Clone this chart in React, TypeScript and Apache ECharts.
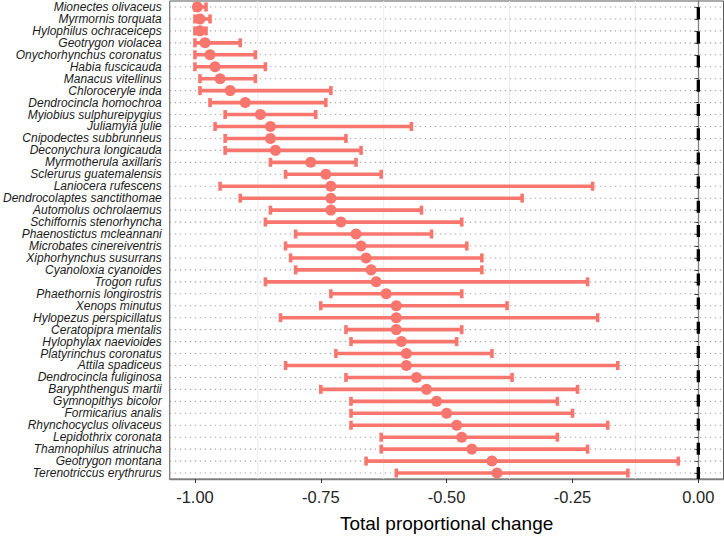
import React, { useEffect, useRef } from "react";
import * as echarts from "echarts";

const species = [
  "Mionectes olivaceus", "Myrmornis torquata", "Hylophilus ochraceiceps", "Geotrygon violacea",
  "Onychorhynchus coronatus", "Habia fuscicauda", "Manacus vitellinus", "Chloroceryle inda",
  "Dendrocincla homochroa", "Myiobius sulphureipygius", "Juliamyia julie", "Cnipodectes subbrunneus",
  "Deconychura longicauda", "Myrmotherula axillaris", "Sclerurus guatemalensis", "Laniocera rufescens",
  "Dendrocolaptes sanctithomae", "Automolus ochrolaemus", "Schiffornis stenorhyncha", "Phaenostictus mcleannani",
  "Microbates cinereiventris", "Xiphorhynchus susurrans", "Cyanoloxia cyanoides", "Trogon rufus",
  "Phaethornis longirostris", "Xenops minutus", "Hylopezus perspicillatus", "Ceratopipra mentalis",
  "Hylophylax naevioides", "Platyrinchus coronatus", "Attila spadiceus", "Dendrocincla fuliginosa",
  "Baryphthengus martii", "Gymnopithys bicolor", "Formicarius analis", "Rhynchocyclus olivaceus",
  "Lepidothrix coronata", "Thamnophilus atrinucha", "Geotrygon montana", "Terenotriccus erythrurus",
];

const estimate = [
  -0.995, -0.99, -0.99, -0.98, -0.97, -0.96, -0.95, -0.93, -0.9, -0.87,
  -0.85, -0.85, -0.84, -0.77, -0.74, -0.73, -0.73, -0.73, -0.71, -0.68,
  -0.67, -0.66, -0.65, -0.64, -0.62, -0.6, -0.6, -0.6, -0.59, -0.58,
  -0.58, -0.56, -0.54, -0.52, -0.5, -0.48, -0.47, -0.45, -0.41, -0.4,
];

const lowerCI = [
  -1.0, -1.0, -1.0, -1.0, -1.0, -1.0, -0.99, -0.99, -0.97, -0.94,
  -0.96, -0.94, -0.94, -0.85, -0.82, -0.95, -0.91, -0.85, -0.86, -0.8,
  -0.82, -0.81, -0.8, -0.86, -0.73, -0.75, -0.83, -0.7, -0.69, -0.72,
  -0.82, -0.7, -0.75, -0.69, -0.69, -0.69, -0.63, -0.63, -0.66, -0.6,
];

const upperCI = [
  -0.978, -0.97, -0.978, -0.91, -0.88, -0.86, -0.88, -0.73, -0.74, -0.76,
  -0.57, -0.7, -0.67, -0.68, -0.63, -0.21, -0.35, -0.55, -0.47, -0.53,
  -0.46, -0.43, -0.43, -0.22, -0.47, -0.38, -0.2, -0.47, -0.48, -0.41,
  -0.16, -0.37, -0.24, -0.28, -0.25, -0.18, -0.28, -0.22, -0.04, -0.14,
];

const xTicks = [-1, -0.75, -0.5, -0.25, 0];
const minorBreaks = [-0.875, -0.625, -0.375, -0.125];
const refLine = [0];
const xMin = -1.05;
const xMax = 0.05;

const COLOR = "#F8766D";
const FONT = "'Liberation Sans', Arial, Helvetica, sans-serif";

export default function App() {
  const ref = useRef<HTMLDivElement | null>(null);

  useEffect(() => {
    if (!ref.current) return;
    const chart = echarts.init(ref.current, undefined, { renderer: "svg" });

    const option: any = {
      animation: false,
      textStyle: { fontFamily: FONT },
      grid: {
        left: 165.5,
        right: 0.5,
        top: 1,
        bottom: 55.7,
        show: true,
        borderColor: "#595959",
        borderWidth: 1,
        backgroundColor: "#ffffff",
      },
      xAxis: {
        type: "value",
        min: xMin,
        max: xMax,
        name: "Total proportional change",
        nameLocation: "middle",
        nameGap: 35,
        nameTextStyle: { fontSize: 19, color: "#000000", fontFamily: FONT },
        axisLine: { show: true, lineStyle: { color: "#7f7f7f", width: 1.3 } },
        axisTick: {
          show: true,
          length: 4,
          customValues: xTicks,
          lineStyle: { color: "#333333", width: 1 },
        },
        axisLabel: {
          customValues: xTicks,
          margin: 9,
          fontSize: 16.5,
          color: "#262626",
          fontFamily: FONT,
          formatter: (v: number) => v.toFixed(2),
        },
        splitLine: { show: false },
      },
      yAxis: {
        type: "category",
        data: species,
        inverse: true,
        axisLine: { show: true, lineStyle: { color: "#7f7f7f", width: 1.3 } },
        axisTick: {
          show: true,
          alignWithLabel: true,
          length: 4,
          lineStyle: { color: "#333333", width: 1 },
        },
        axisLabel: {
          margin: 8,
          fontSize: 12,
          lineHeight: 11.5,
          fontStyle: "italic",
          color: "#1a1a1a",
          fontFamily: FONT,
          interval: 0,
        },
        splitLine: { show: false },
      },
      series: [
        {
          type: "custom",
          name: "minorGrid",
          z: 1,
          silent: true,
          data: minorBreaks.map((v) => [v, 0]),
          encode: { x: 0, y: 1 },
          renderItem: (params: any, api: any) => {
            const cs = params.coordSys;
            const x = api.coord([api.value(0), 0])[0];
            return {
              type: "line",
              shape: { x1: x, y1: cs.y, x2: x, y2: cs.y + cs.height },
              style: { stroke: "#ebebeb", lineWidth: 1 },
            };
          },
        },
        {
          type: "custom",
          name: "rowGrid",
          z: 2,
          silent: true,
          data: species.map((_, i) => [xMin, i]),
          encode: { x: 0, y: 1 },
          renderItem: (params: any, api: any) => {
            const cs = params.coordSys;
            const y = api.coord([xMin, api.value(1)])[1];
            return {
              type: "line",
              shape: { x1: cs.x, y1: y, x2: cs.x + cs.width, y2: y },
              style: { stroke: "#a6a6a6", lineWidth: 1.1, lineDash: [1.4, 3.6] },
            };
          },
        },
        {
          type: "custom",
          name: "zeroLine",
          z: 3,
          silent: true,
          data: refLine.map((v) => [v, 0]),
          encode: { x: 0, y: 1 },
          renderItem: (params: any, api: any) => {
            const cs = params.coordSys;
            const x = api.coord([api.value(0), 0])[0];
            return {
              type: "line",
              shape: { x1: x, y1: cs.y + cs.height, x2: x, y2: cs.y },
              style: { stroke: "#000000", lineWidth: 3.3, lineDash: [12, 12.2] },
            };
          },
        },
        {
          type: "custom",
          name: "ci",
          z: 4,
          silent: true,
          data: species.map((_, i) => [lowerCI[i], upperCI[i], i]),
          encode: { x: [0, 1], y: 2 },
          renderItem: (params: any, api: any) => {
            const yi = api.value(2);
            const p1 = api.coord([api.value(0), yi]);
            const p2 = api.coord([api.value(1), yi]);
            const h = 4.5;
            const st = { stroke: COLOR, lineWidth: 3.6 };
            return {
              type: "group",
              children: [
                { type: "line", shape: { x1: p1[0], y1: p1[1], x2: p2[0], y2: p2[1] }, style: st },
                { type: "line", shape: { x1: p1[0], y1: p1[1] - h, x2: p1[0], y2: p1[1] + h }, style: st },
                { type: "line", shape: { x1: p2[0], y1: p2[1] - h, x2: p2[0], y2: p2[1] + h }, style: st },
              ],
            };
          },
        },
        {
          type: "scatter",
          name: "estimate",
          z: 5,
          silent: true,
          symbol: "circle",
          symbolSize: 11,
          itemStyle: { color: COLOR, opacity: 1 },
          data: estimate.map((v, i) => [v, i]),
        },
      ],
    };

    chart.setOption(option);
    return () => {
      chart.dispose();
    };
  }, []);

  return (
    <div
      ref={ref}
      style={{ position: "absolute", left: 0, top: 0, width: 724, height: 538, background: "#ffffff" }}
    />
  );
}
